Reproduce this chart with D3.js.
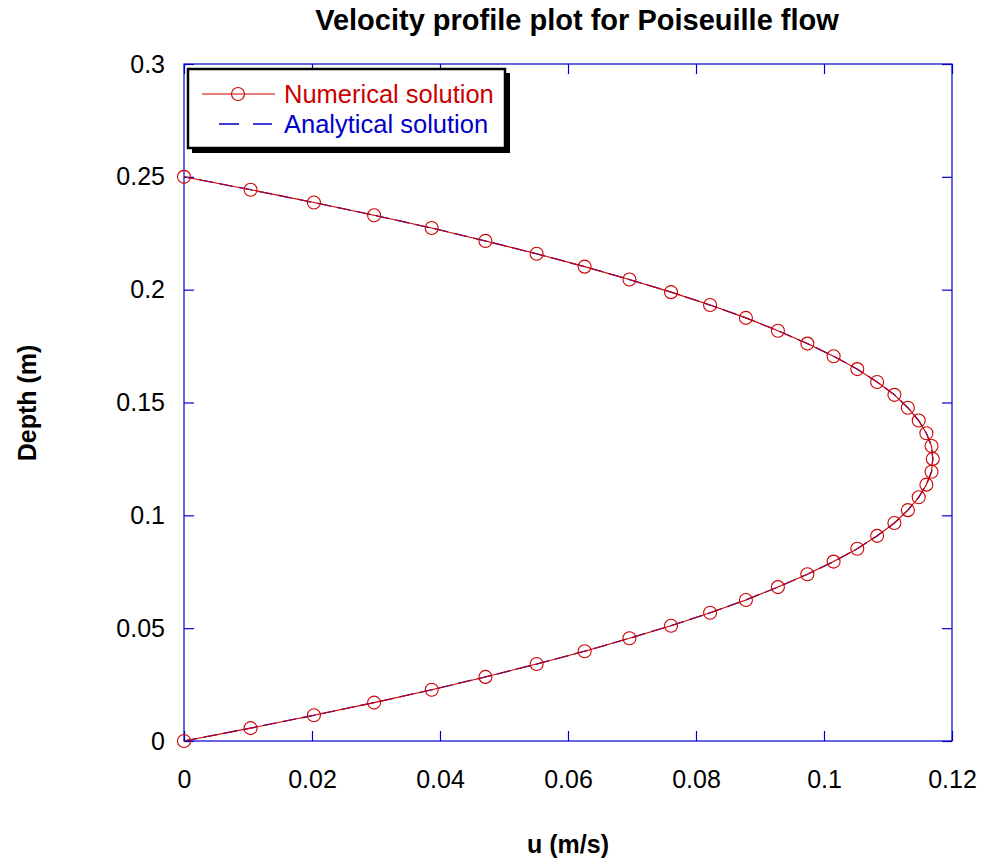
<!DOCTYPE html>
<html><head><meta charset="utf-8">
<script src="https://cdn.jsdelivr.net/npm/d3@7"></script>
<style>body{margin:0;background:#fff}svg{display:block;font-family:"Liberation Sans",Arial,sans-serif}</style>
</head><body>
<svg id="c" width="984" height="865"></svg>
<script>
const depth = [0, 0.0057, 0.0114, 0.0170, 0.0227, 0.0284, 0.0341, 0.0398, 0.0455, 0.0511, 0.0568, 0.0625, 0.0682, 0.0739, 0.0795, 0.0852, 0.0909, 0.0966, 0.1023, 0.1080, 0.1136, 0.1193, 0.1250, 0.1307, 0.1364, 0.1420, 0.1477, 0.1534, 0.1591, 0.1648, 0.1705, 0.1761, 0.1818, 0.1875, 0.1932, 0.1989, 0.2045, 0.2102, 0.2159, 0.2216, 0.2273, 0.2330, 0.2386, 0.2443, 0.2500];
const uNumerical = [0, 0.0104, 0.0203, 0.0297, 0.0387, 0.0471, 0.0551, 0.0626, 0.0696, 0.0761, 0.0822, 0.0878, 0.0928, 0.0974, 0.1015, 0.1052, 0.1083, 0.1110, 0.1131, 0.1148, 0.1160, 0.1168, 0.1170, 0.1168, 0.1160, 0.1148, 0.1131, 0.1110, 0.1083, 0.1052, 0.1015, 0.0974, 0.0928, 0.0878, 0.0822, 0.0761, 0.0696, 0.0626, 0.0551, 0.0471, 0.0387, 0.0297, 0.0203, 0.0104, 0];
const uAnalytical = [0, 0.0104, 0.0203, 0.0297, 0.0387, 0.0471, 0.0551, 0.0626, 0.0696, 0.0761, 0.0822, 0.0878, 0.0928, 0.0974, 0.1015, 0.1052, 0.1083, 0.1110, 0.1131, 0.1148, 0.1160, 0.1168, 0.1170, 0.1168, 0.1160, 0.1148, 0.1131, 0.1110, 0.1083, 0.1052, 0.1015, 0.0974, 0.0928, 0.0878, 0.0822, 0.0761, 0.0696, 0.0626, 0.0551, 0.0471, 0.0387, 0.0297, 0.0203, 0.0104, 0];
const xTicks = [0, 0.02, 0.04, 0.06, 0.08, 0.1, 0.12];
const yTicks = [0, 0.05, 0.1, 0.15, 0.2, 0.25, 0.3];
const seriesNames = ["Numerical solution", "Analytical solution"];

const svg = d3.select("#c");
const L = 184, R = 952, T = 64, B = 741;
const x = d3.scaleLinear().domain([0, 0.12]).range([L, R]);
const y = d3.scaleLinear().domain([0, 0.3]).range([B, T]);
const blue = "#0000cc", red = "#cc0000";
const fmt = d => d3.format("~g")(d);

// frame
svg.append("rect").attr("x", L).attr("y", T).attr("width", R - L).attr("height", B - T)
  .attr("fill", "none").attr("stroke", blue).attr("stroke-width", 1.2);

const tl = 10;
const ax = [
  svg.append("g").attr("transform", `translate(0,${B})`).call(d3.axisBottom(x).tickValues(xTicks).tickSizeInner(-tl).tickSizeOuter(0).tickPadding(29).tickFormat(fmt)),
  svg.append("g").attr("transform", `translate(0,${T})`).call(d3.axisTop(x).tickValues(xTicks).tickSizeInner(-tl).tickSizeOuter(0).tickFormat("")),
  svg.append("g").attr("transform", `translate(${L},0)`).call(d3.axisLeft(y).tickValues(yTicks).tickSizeInner(-tl).tickSizeOuter(0).tickPadding(19).tickFormat(fmt)),
  svg.append("g").attr("transform", `translate(${R},0)`).call(d3.axisRight(y).tickValues(yTicks).tickSizeInner(-tl).tickSizeOuter(0).tickFormat(""))
];
ax.forEach(g => {
  g.select(".domain").remove();
  g.selectAll("line").attr("stroke", blue).attr("stroke-width", 1.2);
  g.selectAll("text").attr("fill", "#000").attr("font-size", 25).attr("font-family", "Liberation Sans, Arial, sans-serif");
});

// series
const pts = depth.map((d, i) => ({ d, un: uNumerical[i], ua: uAnalytical[i] }));
svg.append("path").datum(pts)
  .attr("d", d3.line().x(p => x(p.ua)).y(p => y(p.d)))
  .attr("fill", "none").attr("stroke", blue).attr("stroke-width", 1.3).attr("stroke-dasharray", "14,6");
svg.append("path").datum(pts)
  .attr("d", d3.line().x(p => x(p.un)).y(p => y(p.d)))
  .attr("fill", "none").attr("stroke", red).attr("stroke-width", 1.1);
svg.append("g").selectAll("circle").data(pts).join("circle")
  .attr("cx", p => x(p.un)).attr("cy", p => y(p.d)).attr("r", 6.5)
  .attr("fill", "none").attr("stroke", red).attr("stroke-width", 1.1);

// legend
const lg = svg.append("g");
lg.append("rect").attr("x", 192).attr("y", 73).attr("width", 318).attr("height", 80).attr("fill", "#000");
lg.append("rect").attr("x", 188).attr("y", 69).attr("width", 317).attr("height", 79).attr("fill", "#fff").attr("stroke", "#000").attr("stroke-width", 2.5);
lg.append("line").attr("x1", 202).attr("x2", 275).attr("y1", 94).attr("y2", 94).attr("stroke", red).attr("stroke-width", 1.1);
lg.append("circle").attr("cx", 238).attr("cy", 94).attr("r", 6.5).attr("fill", "none").attr("stroke", red).attr("stroke-width", 1.1);
lg.append("line").attr("x1", 219).attr("x2", 272).attr("y1", 124).attr("y2", 124).attr("stroke", blue).attr("stroke-width", 1.3).attr("stroke-dasharray", "20,14");
lg.append("text").attr("x", 284).attr("y", 103).attr("font-size", 25.5).attr("fill", red).text(seriesNames[0]);
lg.append("text").attr("x", 284).attr("y", 133).attr("font-size", 25.5).attr("fill", blue).text(seriesNames[1]);

// titles
svg.append("text").attr("x", 577).attr("y", 30).attr("text-anchor", "middle").attr("font-size", 29).attr("font-weight", "bold").text("Velocity profile plot for Poiseuille flow");
svg.append("text").attr("x", 568).attr("y", 853).attr("text-anchor", "middle").attr("font-size", 25).attr("font-weight", "bold").text("u (m/s)");
svg.append("text").attr("transform", "translate(36,403) rotate(-90)").attr("text-anchor", "middle").attr("font-size", 25).attr("font-weight", "bold").text("Depth (m)");
</script>
</body></html>
